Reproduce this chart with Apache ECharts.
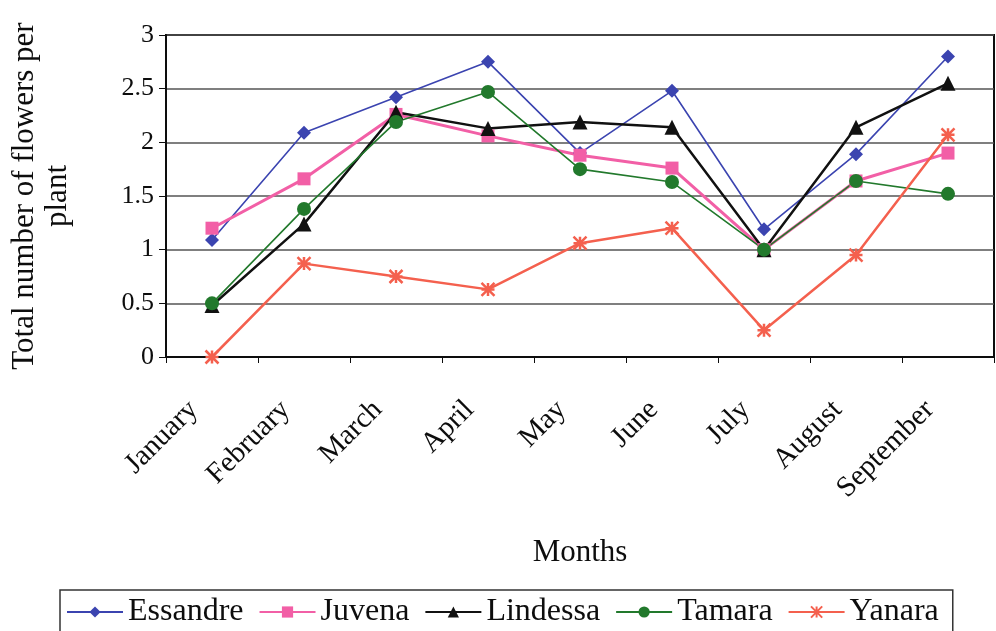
<!DOCTYPE html>
<html>
<head>
<meta charset="utf-8">
<script src="https://cdn.jsdelivr.net/npm/echarts@6/dist/echarts.min.js"></script>
<style>
  html, body { margin: 0; padding: 0; background: #fff; }
  #chart { width: 996px; height: 631px; }
</style>
</head>
<body>
<div id="chart"></div>
<script>
// Monthly flower counts per plant for five cultivars
const months = ['January', 'February', 'March', 'April', 'May', 'June', 'July', 'August', 'September'];
const essandre = [1.09, 2.09, 2.42, 2.75, 1.90, 2.48, 1.19, 1.89, 2.80];
const juvena   = [1.20, 1.66, 2.26, 2.06, 1.88, 1.76, 1.00, 1.64, 1.90];
const lindessa = [0.48, 1.24, 2.28, 2.13, 2.19, 2.14, 1.00, 2.14, 2.55];
const tamara   = [0.50, 1.38, 2.19, 2.47, 1.75, 1.63, 1.00, 1.64, 1.52];
const yanara   = [0.00, 0.87, 0.75, 0.63, 1.06, 1.20, 0.25, 0.95, 2.07];
const yTicks = { min: 0, max: 3, step: 0.5 };

const serif = 'Liberation Serif';
const ink = '#0d0d0d';
const asterisk = 'path://M0,0 L10,10 M10,0 L0,10 M5,0 L5,10 M0,5 L10,5';

function line(name, data, color, width, symbol, size, extra) {
  return Object.assign({
    name: name,
    type: 'line',
    data: data,
    symbol: symbol,
    symbolSize: size,
    lineStyle: { color: color, width: width },
    itemStyle: { color: color, borderColor: color, borderWidth: 0 },
    emphasis: { disabled: true },
    animation: false
  }, extra || {});
}

const chart = echarts.init(document.getElementById('chart'), null, { renderer: 'canvas' });
chart.setOption({
  backgroundColor: '#ffffff',
  grid: {
    left: 163, top: 35, right: 2, bottom: 274,
    show: true, borderColor: ink, borderWidth: 2, backgroundColor: 'transparent'
  },
  xAxis: {
    type: 'category',
    data: months,
    boundaryGap: true,
    axisLine: { lineStyle: { color: ink, width: 2 } },
    axisTick: { show: true, interval: 0, length: 6, lineStyle: { color: ink, width: 1 } },
    axisLabel: {
      interval: 0, rotate: 45, margin: 30,
      padding: [0, 26, 0, 0],
      fontFamily: serif, fontSize: 29, color: ink
    },
    name: 'Months',
    nameLocation: 'middle',
    nameGap: 180,
    nameTextStyle: { fontFamily: serif, fontSize: 31, color: ink }
  },
  yAxis: {
    type: 'value',
    min: yTicks.min, max: yTicks.max, interval: yTicks.step,
    axisLine: { show: true, lineStyle: { color: ink, width: 2 } },
    axisTick: { show: true, length: 7, lineStyle: { color: ink, width: 1 } },
    axisLabel: { fontFamily: serif, fontSize: 26, color: ink, margin: 12 },
    splitLine: { show: true, lineStyle: { color: '#555', width: 1.5 } },
    name: 'Total number of flowers per\nplant',
    nameLocation: 'middle',
    nameRotate: 90,
    nameGap: 92,
    nameTextStyle: { fontFamily: serif, fontSize: 31, color: ink, lineHeight: 33 }
  },
  legend: {
    left: 60, top: 590,
    padding: [6, 14, 8, 6],
    itemWidth: 56, itemHeight: 14,
    itemGap: 15,
    borderColor: '#333', borderWidth: 1.5,
    textStyle: { fontFamily: serif, fontSize: 32, color: ink },
    data: ['Essandre', 'Juvena', 'Lindessa', 'Tamara', 'Yanara']
  },
  series: [
    line('Essandre', essandre, '#3b44b0', 1.6, 'diamond', 14),
    line('Juvena', juvena, '#f25fa6', 3, 'rect', 13),
    line('Lindessa', lindessa, '#111111', 2.5, 'triangle', 15),
    line('Tamara', tamara, '#22792c', 1.6, 'circle', 14),
    line('Yanara', yanara, '#f4604e', 2.5, asterisk, 13,
      { itemStyle: { color: '#f4604e', borderColor: '#f4604e', borderWidth: 2.5 } })
  ]
});
</script>
</body>
</html>
